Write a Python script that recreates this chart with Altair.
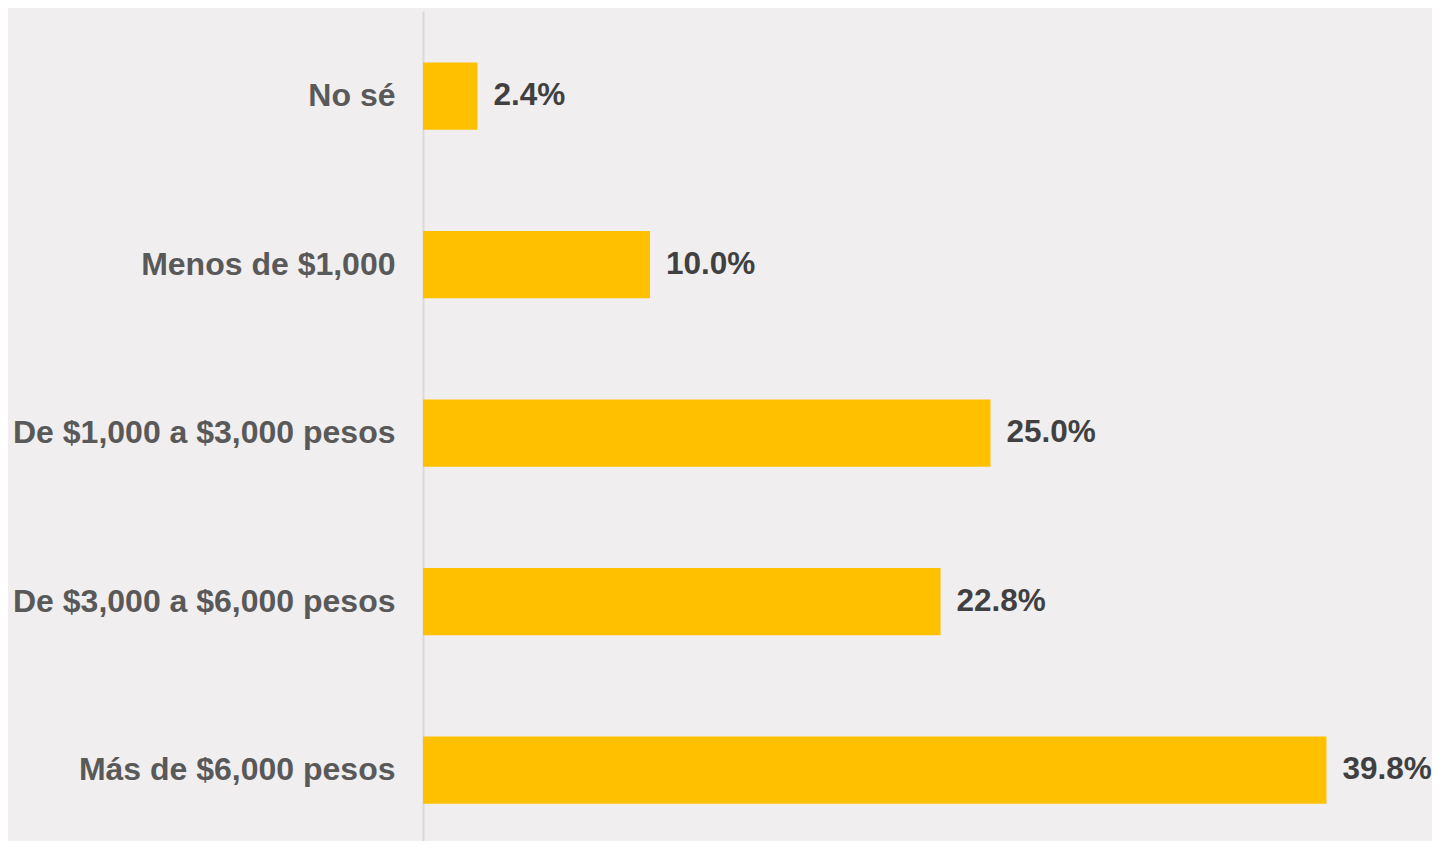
import altair as alt
import pandas as pd

categories = ["No sé", "Menos de $1,000", "De $1,000 a $3,000 pesos",
              "De $3,000 a $6,000 pesos", "Más de $6,000 pesos"]
values = [2.4, 10.0, 25.0, 22.8, 39.8]

df = pd.DataFrame({"cat": categories, "v": values})

FONT = "Liberation Sans"

y_enc = alt.Y("cat:N", sort=categories, title=None,
              scale=alt.Scale(paddingInner=0.6, paddingOuter=0.263, align=0.58),
              axis=alt.Axis(labelFont=FONT, labelFontSize=32, labelFontWeight="bold",
                            labelColor="#595959", labelPadding=28, labelLimit=0,
                            ticks=False, domainColor="#d9d9d9", domainWidth=2,
                            grid=False))
x_enc = alt.X("v:Q", scale=alt.Scale(domain=[0, 40], nice=False), axis=None)

base = alt.Chart(df).encode(y=y_enc, x=x_enc)

bars = base.mark_bar(color="#FFC000")
text = base.transform_calculate(
    lab="format(datum.v, '.1f') + '%'"
).mark_text(align="left", baseline="middle", dx=16, font=FONT, fontSize=31.5,
            fontWeight="bold", color="#404040").encode(text="lab:N")

chart = (bars + text).properties(
    width=908, height=830,
    background="#F0EEEF",
    padding={"left": 415, "top": 3, "right": 101, "bottom": 0},
    autosize=alt.AutoSizeParams(type="none"),
).configure_view(strokeWidth=0)

chart.save("out.html", embed_options={"renderer": "svg", "actions": False})
